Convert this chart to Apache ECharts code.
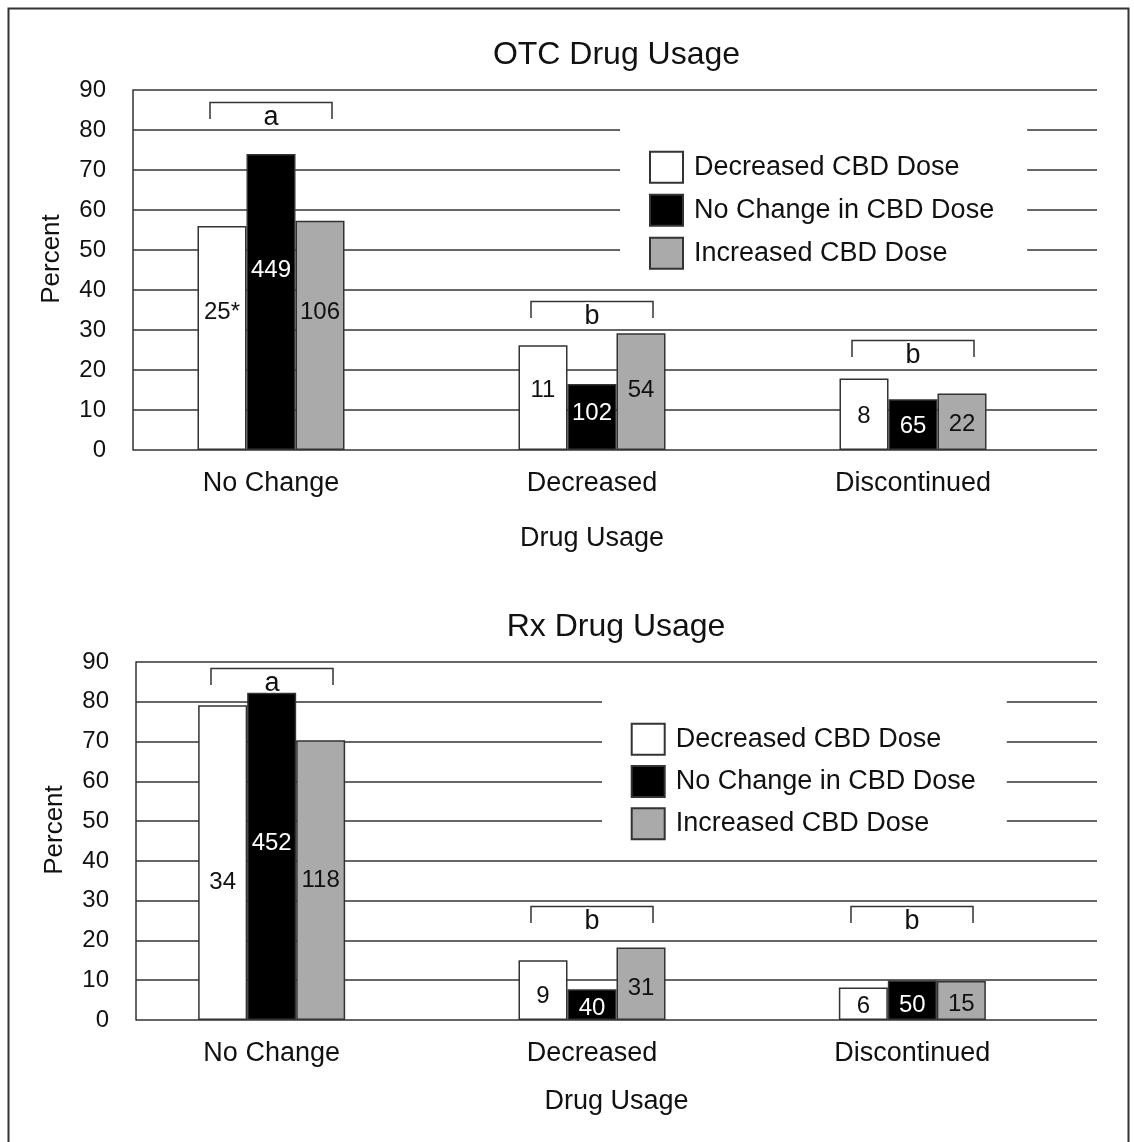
<!DOCTYPE html>
<html>
<head>
<meta charset="utf-8">
<script src="https://cdn.jsdelivr.net/npm/echarts@6/dist/echarts.min.js"></script>
<style>html,body{margin:0;padding:0;background:#fff;}#chart{width:1134px;height:1142px;}</style>
</head>
<body>
<div id="chart"></div>
<script>
// ---------- data ----------
const categories = ['No Change', 'Decreased', 'Discontinued'];
const seriesNames = ['Decreased CBD Dose', 'No Change in CBD Dose', 'Increased CBD Dose'];
const yTicks = [0, 10, 20, 30, 40, 50, 60, 70, 80, 90];

// OTC drug usage (percent)
const otcDecreasedDose = [56.0, 26.2, 17.9];
const otcNoChangeDose  = [74.0, 16.5, 12.7];
const otcIncreasedDose = [57.3, 29.2, 14.1];
// OTC counts (n) shown inside bars
const otcDecreasedN = ['25*', '11', '8'];
const otcNoChangeN  = ['449', '102', '65'];
const otcIncreasedN = ['106', '54', '22'];
// OTC significance groups
const otcGroups = ['a', 'b', 'b'];
const otcGroupLevel = [87.0, 37.3, 27.4];

// Rx drug usage (percent)
const rxDecreasedDose = [79.1, 15.0, 8.2];
const rxNoChangeDose  = [82.3, 7.7, 9.9];
const rxIncreasedDose = [70.3, 18.2, 9.8];
const rxDecreasedN = ['34', '9', '6'];
const rxNoChangeN  = ['452', '40', '50'];
const rxIncreasedN = ['118', '31', '15'];
const rxGroups = ['a', 'b', 'b'];
const rxGroupLevel = [88.5, 28.6, 28.6];

// ---------- layout (label heights in axis units, not data) ----------
const otcLabelAt = [[34.5, 14.8, 8.3], [45.0, 9.25, 5.8], [34.5, 14.8, 6.5]];
const rxLabelAt  = [[34.5, 5.9, 3.3], [44.5, 2.9, 3.8], [35.0, 8.0, 4.0]];

const FONT = '"Liberation Sans", Arial, Helvetica, sans-serif';
const LINE = '#333';
const fills = ['#ffffff', '#000000', '#aaaaaa'];
const labelColors = ['#111', '#fff', '#111'];

const TOP = {top: 90, height: 360, axLeft: 133, axWidth: 964, barLeft: 110.5, barWidth: 963};
const BOT = {top: 662, height: 358, axLeft: 136, axWidth: 961, barLeft: 111.5, barWidth: 961};

function barSeries(values, counts, labelAt, idx, axisIdx, geom) {
  const k = geom.height / 90;
  return {
    type: 'bar',
    name: seriesNames[idx],
    xAxisIndex: axisIdx, yAxisIndex: axisIdx,
    barWidth: 49, barGap: '0%',
    itemStyle: {color: fills[idx], borderColor: LINE, borderWidth: 1.5},
    emphasis: {disabled: true},
    data: values.map((v, i) => ({
      value: v,
      label: {
        show: true, position: 'inside',
        offset: [0, -(labelAt[i] - v / 2) * k],
        formatter: counts[i],
        color: labelColors[idx], fontSize: 24, fontFamily: FONT
      }
    }))
  };
}

function bracketSeries(groups, levels, axisIdx) {
  return {
    type: 'custom',
    xAxisIndex: axisIdx, yAxisIndex: axisIdx,
    z: 6, silent: true,
    data: levels.map((lv, i) => [i, lv, groups[i]]),
    renderItem: function (params, api) {
      const p = api.coord([api.value(0), api.value(1)]);
      const half = 61, leg = 16.5;
      const x = Math.round(p[0]), y = Math.round(p[1]) + 0.5;
      return {
        type: 'group',
        children: [
          {type: 'polyline', shape: {points: [[x - half, y + leg], [x - half, y], [x + half, y], [x + half, y + leg]]},
           style: {stroke: LINE, lineWidth: 1.5, fill: null}},
          {type: 'text', x: x, y: y + 15,
           style: {text: groups[params.dataIndex], fontSize: 27, fontFamily: FONT, fill: '#111',
                   align: 'center', verticalAlign: 'middle', stroke: '#fff', lineWidth: 3}}
        ]
      };
    }
  };
}

function yAxisVisible(grid) {
  return {
    type: 'value', gridIndex: grid, min: 0, max: 90, interval: 10,
    name: 'Percent', nameLocation: 'middle', nameGap: 68,
    nameTextStyle: {fontSize: 26, fontFamily: FONT, color: '#111', padding: [0, 0, 0, 22]},
    axisLine: {show: true, lineStyle: {color: LINE, width: 1.5}},
    axisTick: {show: false},
    axisLabel: {fontSize: 24, fontFamily: FONT, color: '#111', margin: 27,
                customValues: yTicks},
    splitLine: {show: true, lineStyle: {color: LINE, width: 1.5}}
  };
}
function yAxisHidden(grid) {
  return {type: 'value', gridIndex: grid, min: 0, max: 90, interval: 10, show: false, splitLine: {show: false}};
}

const legendText = {fontSize: 27, fontFamily: FONT, color: '#111', lineHeight: 31, padding: [0, 0, 0, 6]};

const option = {
  animation: false,
  backgroundColor: '#fff',
  textStyle: {fontFamily: FONT},
  graphic: [
    {type: 'rect', shape: {x: 8.5, y: 8.5, width: 1120, height: 1200}, style: {fill: null, stroke: LINE, lineWidth: 2}, silent: true},
    {type: 'text', x: 616.5, y: 55, style: {text: 'OTC Drug Usage', fontSize: 32, fontFamily: FONT, fill: '#111', align: 'center', verticalAlign: 'middle'}},
    {type: 'text', x: 616, y: 627, style: {text: 'Rx Drug Usage', fontSize: 32, fontFamily: FONT, fill: '#111', align: 'center', verticalAlign: 'middle'}}
  ],
  legend: [
    {data: seriesNames, orient: 'vertical', left: 620, top: 120, icon: 'rect',
     padding: [30.7, 33, 14, 29], itemWidth: 33, itemHeight: 31, itemGap: 10,
     backgroundColor: '#fff', selectedMode: false, textStyle: legendText},
    {data: seriesNames, orient: 'vertical', left: 602, top: 690, icon: 'rect',
     padding: [32.7, 31, 14, 28.7], itemWidth: 33, itemHeight: 31, itemGap: 9.3,
     backgroundColor: '#fff', selectedMode: false, textStyle: legendText}
  ],
  grid: [
    {left: TOP.axLeft, top: TOP.top, width: TOP.axWidth, height: TOP.height},
    {left: TOP.barLeft, top: TOP.top, width: TOP.barWidth, height: TOP.height},
    {left: BOT.axLeft, top: BOT.top, width: BOT.axWidth, height: BOT.height},
    {left: BOT.barLeft, top: BOT.top, width: BOT.barWidth, height: BOT.height}
  ],
  xAxis: [
    {type: 'category', gridIndex: 0, data: categories, show: false},
    {type: 'category', gridIndex: 1, data: categories,
     name: 'Drug Usage', nameLocation: 'middle', nameGap: 75,
     nameTextStyle: {fontSize: 27, fontFamily: FONT, color: '#111'},
     axisLine: {show: false}, axisTick: {show: false},
     axisLabel: {fontSize: 27, fontFamily: FONT, color: '#111', margin: 20},
     splitLine: {show: false}},
    {type: 'category', gridIndex: 2, data: categories,
     name: 'Drug Usage', nameLocation: 'middle', nameGap: 68,
     nameTextStyle: {fontSize: 27, fontFamily: FONT, color: '#111'},
     axisLine: {show: false}, axisTick: {show: false}, axisLabel: {show: false},
     splitLine: {show: false}},
    {type: 'category', gridIndex: 3, data: categories,
     axisLine: {show: false}, axisTick: {show: false},
     axisLabel: {fontSize: 27, fontFamily: FONT, color: '#111', margin: 20},
     splitLine: {show: false}}
  ],
  yAxis: [yAxisVisible(0), yAxisHidden(1), yAxisVisible(2), yAxisHidden(3)],
  series: [
    barSeries(otcDecreasedDose, otcDecreasedN, otcLabelAt[0], 0, 1, TOP),
    barSeries(otcNoChangeDose, otcNoChangeN, otcLabelAt[1], 1, 1, TOP),
    barSeries(otcIncreasedDose, otcIncreasedN, otcLabelAt[2], 2, 1, TOP),
    bracketSeries(otcGroups, otcGroupLevel, 1),
    barSeries(rxDecreasedDose, rxDecreasedN, rxLabelAt[0], 0, 3, BOT),
    barSeries(rxNoChangeDose, rxNoChangeN, rxLabelAt[1], 1, 3, BOT),
    barSeries(rxIncreasedDose, rxIncreasedN, rxLabelAt[2], 2, 3, BOT),
    bracketSeries(rxGroups, rxGroupLevel, 3)
  ]
};

const chart = echarts.init(document.getElementById('chart'), null, {renderer: 'canvas'});
chart.setOption(option);
</script>
</body>
</html>
